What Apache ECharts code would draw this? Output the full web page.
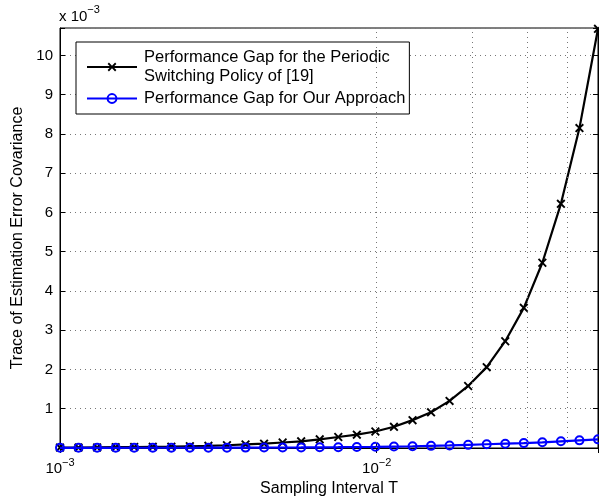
<!DOCTYPE html>
<html>
<head>
<meta charset="utf-8">
<script src="https://cdn.jsdelivr.net/npm/echarts@6/dist/echarts.min.js"></script>
<style>
  html, body { margin: 0; padding: 0; background: #fff; }
  #chart { width: 599px; height: 500px; }
</style>
</head>
<body>
<div id="chart"></div>
<script>
// Sampling intervals T (log-spaced from 1e-3 to 5e-2)
const samplingT = [
  0.001000, 0.001144, 0.001310, 0.001499, 0.001715, 0.001963, 0.002247, 0.002571,
  0.002942, 0.003367, 0.003854, 0.004410, 0.005047, 0.005776, 0.006610, 0.007565,
  0.008657, 0.009907, 0.01134, 0.01298, 0.01485, 0.01699, 0.01945, 0.02226,
  0.02547, 0.02915, 0.03336, 0.03818, 0.04369, 0.05000
];

// Performance gap, periodic switching policy of [19]  (units of 1e-3)
const periodicGap = [
  0.010, 0.010, 0.015, 0.020, 0.025, 0.030, 0.035, 0.045,
  0.055, 0.070, 0.090, 0.110, 0.140, 0.170, 0.220, 0.280,
  0.340, 0.420, 0.540, 0.710, 0.910, 1.200, 1.580, 2.060,
  2.720, 3.570, 4.720, 6.220, 8.150, 10.68
];

// Performance gap, our approach  (units of 1e-3)
const ourGap = [
  0.005, 0.005, 0.005, 0.005, 0.006, 0.006, 0.007, 0.007,
  0.008, 0.009, 0.010, 0.011, 0.013, 0.015, 0.018, 0.021,
  0.025, 0.030, 0.037, 0.045, 0.055, 0.065, 0.080, 0.095,
  0.110, 0.125, 0.145, 0.170, 0.195, 0.220
];

// Axis ranges and grid positions
const xRange = [0.001, 0.05];
const yRange = [0, 10.7];
const yStep = 1;
const xMinorGrid = [0.002, 0.003, 0.004, 0.005, 0.006, 0.007, 0.008, 0.009,
                    0.01, 0.02, 0.03, 0.04];

const seriesNames = [
  'Performance Gap for the Periodic\nSwitching Policy of [19]',
  'Performance Gap for Our Approach'
];

const FONT = '"Liberation Sans", Arial, Helvetica, sans-serif';
const TICK_SIZE = 15;
const LABEL_SIZE = 16;
const LEGEND_SIZE = 16.5;
const GRID_STYLE = { color: '#777', width: 1, type: [1, 4] };
const CROSS = 'path://M0,1.5 L1.5,0 L5,3.5 L8.5,0 L10,1.5 L6.5,5 L10,8.5 L8.5,10 L5,6.5 L1.5,10 L0,8.5 L3.5,5 Z';

function pairs(xs, ys) { return xs.map((x, i) => [x, ys[i]]); }

const chart = echarts.init(document.getElementById('chart'), null, { renderer: 'canvas' });

chart.setOption({
  animation: false,
  backgroundColor: '#fff',
  title: {
    text: '{a|x 10}{s|\u22123}',
    left: 54,
    top: -1,
    textStyle: {
      fontWeight: 'normal',
      rich: {
        a: { fontFamily: FONT, fontSize: TICK_SIZE, fontWeight: 'normal', color: '#000' },
        s: { fontFamily: FONT, fontSize: 11, fontWeight: 'normal', color: '#000', padding: [0, 0, 14, 0] }
      }
    }
  },
  grid: {
    left: 60, right: 1, top: 28, bottom: 52,
    show: true, borderColor: '#000', borderWidth: 1,
    containLabel: false,
    outerBoundsMode: 'none'
  },
  legend: {
    orient: 'vertical',
    left: 76, top: 42,
    padding: [6, 4, 6, 10],
    itemGap: 3,
    itemWidth: 50,
    itemHeight: 11,
    borderColor: '#000', borderWidth: 1,
    backgroundColor: '#fff',
    selectedMode: false,
    textStyle: { fontFamily: FONT, fontSize: LEGEND_SIZE, color: '#000', lineHeight: 19, padding: [0, 0, 0, 2] },
    data: seriesNames
  },
  xAxis: [
    {
      type: 'log', logBase: 10,
      min: xRange[0], max: xRange[1],
      position: 'bottom',
      axisLine: { show: true, lineStyle: { color: '#000', width: 1 } },
      axisTick: { show: true, inside: true, length: 5, lineStyle: { color: '#000' } },
      splitLine: { show: false },
      axisLabel: {
        margin: 9,
        formatter: function (v) {
          const e = Math.log10(v);
          if (Math.abs(e - Math.round(e)) < 1e-6) {
            return '{b|10}{s|\u2212' + Math.abs(Math.round(e)) + '}';
          }
          return '';
        },
        rich: {
          b: { fontFamily: FONT, fontSize: TICK_SIZE, color: '#000' },
          s: { fontFamily: FONT, fontSize: 11, color: '#000', padding: [0, 0, 12, 0] }
        }
      },
      name: 'Sampling Interval T',
      nameLocation: 'middle',
      nameGap: 32,
      nameTextStyle: { fontFamily: FONT, fontSize: LABEL_SIZE, color: '#000' }
    },
    {
      type: 'log', logBase: 10,
      min: xRange[0], max: xRange[1],
      position: 'top',
      axisLine: { show: true, lineStyle: { color: '#000', width: 1 } },
      axisTick: { show: true, inside: true, length: 5, lineStyle: { color: '#000' } },
      axisLabel: { show: false },
      splitLine: { show: false }
    }
  ],
  yAxis: [
    {
      type: 'value',
      min: yRange[0], max: yRange[1], interval: yStep,
      position: 'left',
      axisLine: { show: true, lineStyle: { color: '#000', width: 1 } },
      axisTick: { show: true, inside: true, length: 5, lineStyle: { color: '#000' } },
      axisLabel: {
        margin: 7,
        fontFamily: FONT, fontSize: TICK_SIZE, color: '#000',
        formatter: function (v) {
          return (v >= 1 && Math.abs(v - Math.round(v)) < 1e-9) ? String(Math.round(v)) : '';
        }
      },
      splitLine: { show: true, lineStyle: GRID_STYLE },
      name: 'Trace of Estimation Error Covariance',
      nameLocation: 'middle',
      nameGap: 25,
      nameTextStyle: { fontFamily: FONT, fontSize: LABEL_SIZE, color: '#000' }
    },
    {
      type: 'value',
      min: yRange[0], max: yRange[1], interval: yStep,
      position: 'right',
      axisLine: { show: true, lineStyle: { color: '#000', width: 1 } },
      axisTick: { show: true, inside: true, length: 5, lineStyle: { color: '#000' } },
      axisLabel: { show: false },
      splitLine: { show: false }
    }
  ],
  series: [
    {
      name: seriesNames[0],
      type: 'line',
      xAxisIndex: 0, yAxisIndex: 0,
      data: pairs(samplingT, periodicGap),
      symbol: CROSS,
      symbolSize: 9,
      lineStyle: { color: '#000', width: 2.2 },
      itemStyle: { color: '#000' },
      markLine: {
        silent: true,
        symbol: ['none', 'none'],
        label: { show: false },
        lineStyle: GRID_STYLE,
        emphasis: { disabled: true },
        data: xMinorGrid.map(v => ({ xAxis: v }))
      },
      z: 3
    },
    {
      name: seriesNames[1],
      type: 'line',
      xAxisIndex: 0, yAxisIndex: 0,
      data: pairs(samplingT, ourGap),
      symbol: 'circle',
      symbolSize: 8,
      lineStyle: { color: '#0000ff', width: 2.2 },
      itemStyle: { color: 'rgba(0,0,0,0)', borderColor: '#0000ff', borderWidth: 2 },
      z: 4
    }
  ]
});
</script>
</body>
</html>
